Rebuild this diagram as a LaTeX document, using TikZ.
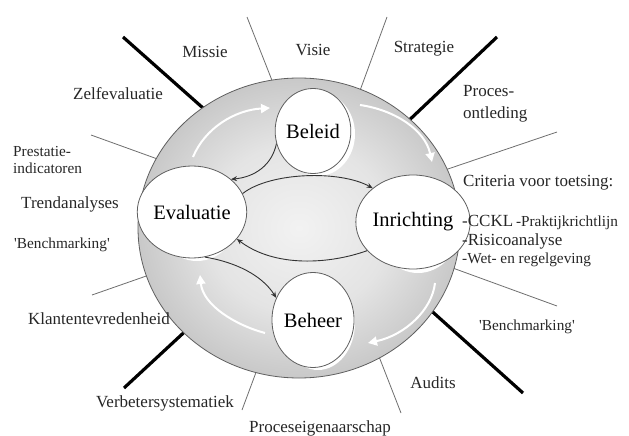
\documentclass[tikz,border=0pt]{standalone}
\usepackage{fontspec}
\setmainfont{Liberation Serif}
\usetikzlibrary{shapes.geometric,arrows.meta}
\definecolor{ballc}{RGB}{242,242,242}
\definecolor{ballc2}{RGB}{228,228,228}
\definecolor{ballm}{RGB}{188,188,188}
\definecolor{ballr}{RGB}{158,158,158}
\definecolor{ballrr}{RGB}{148,148,148}
\definecolor{rimline}{RGB}{95,95,95}
\definecolor{spokegray}{RGB}{110,110,110}
\pgfdeclareradialshading{ballshade}{\pgfpoint{0bp}{0bp}}{color(0bp)=(ballc); color(14bp)=(ballc2); color(30bp)=(ballm); color(42bp)=(ballr); color(50bp)=(ballrr)}
\begin{document}
\begin{tikzpicture}[x=1pt,y=-1pt,
  lab/.style={font=\fontsize{17}{19}\selectfont, inner sep=0pt, text=black!85},
  smalllab/.style={font=\fontsize{15.3}{17}\selectfont, inner sep=0pt, text=black!85},
  circ/.style={ellipse, draw=rimline, line width=0.8pt, fill=white, inner sep=0pt, font=\fontsize{20.5}{22}\selectfont},
  thickspoke/.style={line width=3.2pt, black},
  thinspoke/.style={line width=0.8pt, spokegray},
  whitearrow/.style={white, line width=2pt, -{Triangle[width=9pt,length=9pt]}},
  blackarrow/.style={black!80, line width=0.9pt, -{Stealth[width=5pt,length=6pt]}}]
\useasboundingbox (0,0) rectangle (629,436);
% spokes
\draw[thickspoke] (123,37) -- (212,116);
\draw[thickspoke] (497,37) -- (403,126);
\draw[thickspoke] (523,393) -- (426,306);
\draw[thickspoke] (124,388) -- (192,325);
\draw[thinspoke] (247,17) -- (275,88);
\draw[thinspoke] (387,17) -- (358,96);
\draw[thinspoke] (557,132) -- (442,171);
\draw[thinspoke] (91,135) -- (163,161);
\draw[thinspoke] (557,306) -- (450,267);
\draw[thinspoke] (92,295) -- (152,274);
\draw[thinspoke] (401,413) -- (378,354);
\draw[thinspoke] (242,410) -- (258,367);
% ball
\path[draw=rimline, line width=0.8pt, shading=ballshade] (299,228) ellipse [x radius=161, y radius=150];
% highlights
\fill[white] (318,134) ellipse [x radius=37, y radius=42];
\fill[white] (197,215) ellipse [x radius=42, y radius=46];
\fill[white] (418,226) ellipse [x radius=42, y radius=47];
\fill[white] (318,323) ellipse [x radius=37, y radius=47];
% circles
\node[circ, minimum width=74pt, minimum height=85pt] (bel) at (313,131) {Beleid};
\node[circ, minimum width=84pt, minimum height=92pt] (eva) at (192,212) {Evaluatie};
\node[circ, minimum width=84pt, minimum height=94pt] (inr) at (413,222) {Inrichting};
\node[circ, minimum width=74pt, minimum height=95pt] (beh) at (313,320) {Beheer};
% white cycle arrows
\draw[whitearrow] (193,157) .. controls (205,128) and (235,110) .. (270,108);
\draw[whitearrow] (360,105) .. controls (395,110) and (425,130) .. (432,162);
\draw[whitearrow] (435,283) .. controls (432,310) and (405,335) .. (368,343);
\draw[whitearrow] (265,333) .. controls (235,325) and (203,305) .. (200,275);
% black arrows
\draw[blackarrow] (bel.199) .. controls (272,165) and (255,177) .. (eva.40);
\draw[blackarrow] (eva.20) .. controls (270,172) and (340,170) .. (inr.140);
\draw[blackarrow] (inr.212) .. controls (330,264) and (275,268) .. (eva.-31);
\draw[blackarrow] (eva.286) .. controls (235,262) and (262,275) .. (beh.149);
% labels
\node[lab] (missie) at (205,52) {Missie};
\node[lab] (visie) at (313,50) {Visie};
\node[lab] (strat) at (424,49) {Strategie};
\node[lab] (zelf) at (118,94) {Zelfevaluatie};
\node[lab, anchor=west, align=left, font=\fontsize{17}{22}\selectfont] (proc) at (463,104) {Proces-\\ontleding};
\node[smalllab, anchor=west, align=left] (prest) at (13,160) {Prestatie-\\indicatoren};
\node[lab] (trend) at (70,204) {Trendanalyses};
\node[smalllab] (benchl) at (62,245) {\textquotesingle Benchmarking\textquotesingle};
\node[lab] (klant) at (99,319) {Klantentevredenheid};
\node[lab] (verb) at (165,403) {Verbetersystematiek};
\node[lab] (eigen) at (320,428) {Proceseigenaarschap};
\node[lab] (audits) at (433,383) {Audits};
\node[smalllab] (benchr) at (527,327) {\textquotesingle Benchmarking\textquotesingle};
\node[lab, anchor=west] (crit) at (463,183) {Criteria voor toetsing:};
\node[lab, anchor=west] (cckl) at (462,222) {-CCKL\,{\fontsize{15.3}{17}\selectfont -Praktijkrichtlijn}};
\node[lab, anchor=west] (risico) at (462,241) {-Risicoanalyse};
\node[smalllab, anchor=west] (wet) at (462,260) {-Wet- en regelgeving};
\end{tikzpicture}
\end{document}
